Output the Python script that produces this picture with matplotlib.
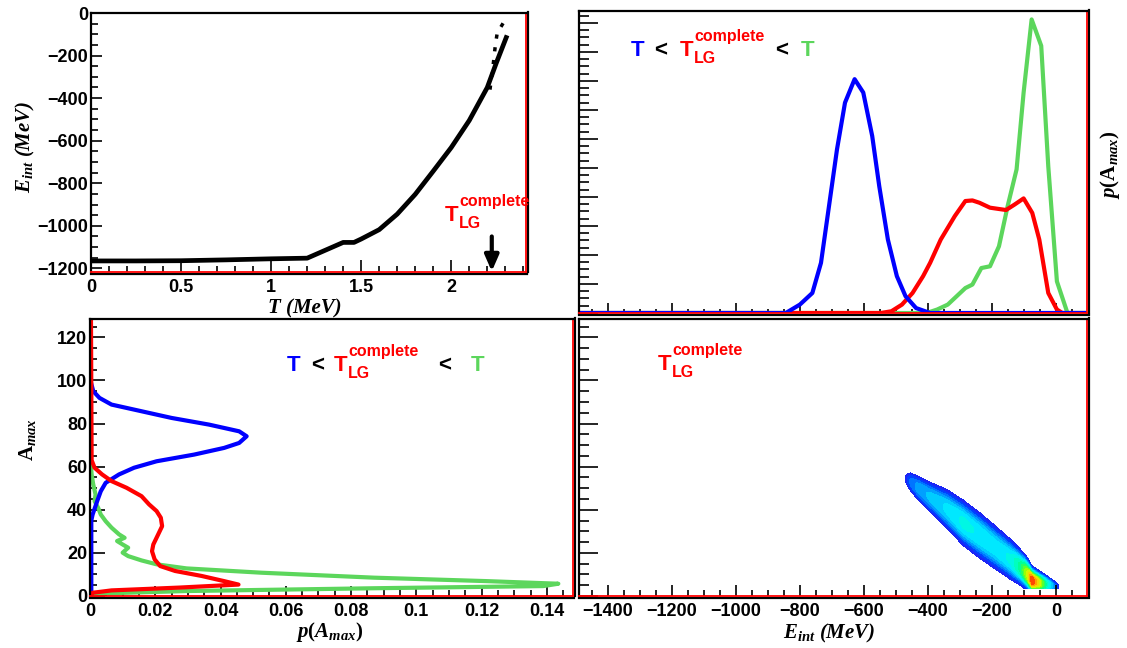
import numpy as np
import matplotlib
matplotlib.use("Agg")
import matplotlib.pyplot as plt
import matplotlib.transforms as mtransforms
from matplotlib.colors import LinearSegmentedColormap
from matplotlib.lines import Line2D
from matplotlib.ticker import MultipleLocator, FuncFormatter, NullFormatter

plt.rcParams['font.family'] = 'Liberation Sans'
plt.rcParams['font.weight'] = 'bold'
plt.rcParams['mathtext.fontset'] = 'custom'
plt.rcParams['mathtext.it'] = 'Liberation Serif:italic:bold'
plt.rcParams['mathtext.rm'] = 'Liberation Serif:bold'
plt.rcParams['mathtext.bf'] = 'Liberation Sans:bold'

# ---- data ----
# top left: E_int versus T
T_mev = [0, 0.25, 0.5, 0.75, 1.0, 1.2, 1.3, 1.4, 1.46, 1.5, 1.6, 1.7, 1.8, 1.9, 2.0, 2.1, 2.2, 2.25, 2.31]
E_of_T = [-1165, -1165, -1164, -1160, -1155, -1152, -1115, -1078, -1078, -1062, -1018, -945, -852, -743, -632, -505, -350, -235, -105]
T_dash = [2.215, 2.23, 2.245, 2.255, 2.29]
E_dash = [-360, -265, -150, -95, -45]
T_lg = 2.225

# top right: p(E_int) for the three temperature ranges
E_blue = [-1490, -844, -800, -761, -734, -712, -684, -659, -629, -602, -574, -552, -525, -497, -470, -437, -393, 97]
p_blue = [0, 0, 0.0029, 0.0069, 0.0173, 0.0345, 0.0564, 0.0725, 0.0806, 0.0760, 0.0610, 0.0437, 0.0253,
          0.0127, 0.0058, 0.0017, 0, 0]
E_red = [-1490, -547, -514, -481, -448, -415, -393, -360, -316, -283, -261, -239, -206, -156, -129, -101,
         -74, -52, -24, 3, 20, 97]
p_red = [0, 0, 0.0006, 0.0029, 0.0069, 0.0127, 0.0173, 0.0253, 0.0334, 0.0386, 0.0388, 0.0380, 0.0363,
         0.0355, 0.0374, 0.0395, 0.0345, 0.0253, 0.0069, 0.0012, 0, 0]
E_green = [-1490, -404, -371, -338, -310, -283, -261, -233, -206, -178, -151, -123, -101, -76, -46, -24, 3, 36, 97]
p_green = [0, 0, 0.0012, 0.0029, 0.0058, 0.0086, 0.0098, 0.0155, 0.0161, 0.0230, 0.0368, 0.0495, 0.0760,
           0.1012, 0.0921, 0.0506, 0.0109, 0, 0]

# bottom left: p(A_max)
A_blue = [1.5, 35, 37.8, 44, 48.6, 52.5, 56.4, 59.5, 62.5, 65.6, 68.7, 71, 74.1, 76.4, 79.5, 82.6, 85.7,
          88.8, 91.9, 95, 99.6]
pA_blue = [0.0004, 0.0004, 0.0008, 0.0022, 0.0033, 0.0048, 0.0089, 0.0135, 0.0204, 0.0319, 0.0411, 0.0457,
           0.0480, 0.0457, 0.0365, 0.0250, 0.0158, 0.0066, 0.0029, 0.0010, 0.0002]
A_red = [0, 1.5, 2.6, 3.9, 5.3, 6.9, 9.3, 11.6, 13.9, 17, 20.8, 23.9, 28.6, 32.4, 36.3, 39.4, 42.5, 46.3,
         50.2, 53.3, 56.4, 59.5, 63, 128]
pA_red = [0.0003, 0.0008, 0.0066, 0.0273, 0.0455, 0.0411, 0.0342, 0.0261, 0.0215, 0.0198, 0.0190, 0.0194,
          0.0209, 0.0221, 0.0217, 0.0204, 0.0181, 0.0158, 0.0112, 0.0066, 0.0037, 0.0014, 0.0005, 0.0003]
A_green = [0, 1.1, 2.3, 3.6, 4.6, 5.7, 6.9, 8.5, 10.8, 12.8, 14.7, 16.5, 18.5, 20.1, 22.4, 23.9, 25.5, 27,
           28.6, 31.7, 34.7, 37.8, 40.9, 44, 47.1, 51.7, 56.4, 62]
pA_green = [0.0003, 0.002, 0.0296, 0.0871, 0.1389, 0.1435, 0.1216, 0.0871, 0.0526, 0.0296, 0.0204, 0.0158,
            0.0117, 0.0100, 0.0117, 0.0100, 0.0083, 0.0106, 0.0089, 0.0066, 0.0048, 0.0033, 0.0025, 0.0014,
            0.0017, 0.0010, 0.0005, 0.0002]

# bottom right: ridge of the A_max vs E_int density at T_LG
ridge_E = [-470, -455, -430, -394, -340, -290, -240, -185, -140, -112, -90, -75, -55, -29, -5, 8]
ridge_A = [54.5, 53.0, 50.0, 46.0, 40.3, 34.0, 28.3, 22.0, 16.8, 13.4, 10.2, 7.2, 6.2, 5.3, 4.6, 4.2]
ridge_w = [1.9, 3.0, 3.75, 4.5, 5.75, 6.5, 6.6, 6.25, 5.75, 5.0, 4.4, 3.75, 3.25, 2.5, 1.6, 1.0]
ridge_p = [0.06, 0.18, 0.26, 0.30, 0.36, 0.42, 0.40, 0.38, 0.42, 0.55, 0.78, 1.0, 0.85, 0.5, 0.22, 0.06]
A_min = 3.6

BLUE, RED, GREEN = '#0000ff', '#ff0000', '#5cd65c'

W, H = 1127, 648
fig = plt.figure(figsize=(W / 100, H / 100), dpi=100)


def box(l, t, r, b):
    return [l / W, 1 - b / H, (r - l) / W, (b - t) / H]


fmt = FuncFormatter(lambda v, p: ('%g' % (0 if abs(v) < 1e-12 else v)).replace('-', '\u2212'))


def style(ax, xmaj, xmin, ymaj, ymin, ylen=(8, 4), xlen=(8, 4)):
    ax.xaxis.set_major_locator(MultipleLocator(xmaj))
    ax.xaxis.set_minor_locator(MultipleLocator(xmin))
    ax.yaxis.set_major_locator(MultipleLocator(ymaj))
    ax.yaxis.set_minor_locator(MultipleLocator(ymin))
    ax.xaxis.set_major_formatter(fmt)
    ax.yaxis.set_major_formatter(fmt)
    ax.tick_params(which='both', direction='in', top=False, right=False, labelsize=13, width=1.2)
    ax.tick_params(axis='x', which='major', length=xlen[0], pad=5)
    ax.tick_params(axis='x', which='minor', length=xlen[1])
    ax.tick_params(axis='y', which='major', length=ylen[0], pad=2)
    ax.tick_params(axis='y', which='minor', length=ylen[1])
    for s in ['top', 'left']:
        ax.spines[s].set_linewidth(1.6)
    for s in ['right', 'bottom']:
        ax.spines[s].set_color('red')
        ax.spines[s].set_linewidth(1.3)
    offx = mtransforms.ScaledTranslation(0.016, 0, fig.dpi_scale_trans)
    offy = mtransforms.ScaledTranslation(0, -0.016, fig.dpi_scale_trans)
    ax.add_artist(Line2D([1, 1], [0, 1.003], transform=ax.transAxes + offx, color='k', lw=1.6, clip_on=False))
    ax.add_artist(Line2D([0, 1.003], [0, 0], transform=ax.transAxes + offy, color='k', lw=1.6, clip_on=False))


def put(x, y, s, color, size=16, **kw):
    fig.text(x / W, 1 - y / H, s, color=color, fontsize=size, fontweight='bold',
             fontfamily='Liberation Sans', **kw)


def tlg(x, yb):
    put(x, yb, 'T', RED, 16, ha='left', va='baseline')
    put(x + 14, yb - 15, 'complete', RED, 11.5, ha='left', va='baseline')
    put(x + 14, yb + 7, 'LG', RED, 11.5, ha='left', va='baseline')


def title_line(xb, xl1, xr, xl2, xg, yb):
    put(xb, yb, 'T', BLUE, 16, ha='left', va='baseline')
    put(xl1, yb, '<', 'k', 16, ha='center', va='baseline')
    tlg(xr, yb)
    put(xl2, yb, '<', 'k', 16, ha='center', va='baseline')
    put(xg, yb, 'T', GREEN, 16, ha='left', va='baseline')


def label(x, y, s, rot=0):
    fig.text(x / W, 1 - y / H, s, fontsize=15, fontfamily='Liberation Serif', fontstyle='italic',
             fontweight='bold', rotation=rot, ha='center', va='center')


# ---- top left ----
ax1 = fig.add_axes(box(91, 13, 526, 272))
ax1.plot(T_mev, E_of_T, color='k', lw=3.4, solid_capstyle='butt')
ax1.plot(T_dash, E_dash, color='k', lw=2.5, ls=(0, (1.2, 2.5)))
ax1.annotate('', xy=(T_lg, -1214), xytext=(T_lg, -1050),
             arrowprops=dict(arrowstyle='-|>,head_width=0.35,head_length=0.8', lw=3, color='k',
                             mutation_scale=12, shrinkA=0, shrinkB=0))
ax1.set_xlim(0, 2.415)
ax1.set_ylim(-1217, 0)
style(ax1, 0.5, 0.1, 200, 50, ylen=(8, 5), xlen=(9, 4))
tlg(445, 221)
label(305, 308, 'T (MeV)')
label(25, 147, r'$E_{int}$ (MeV)', rot=90)

# ---- top right ----
ax2 = fig.add_axes(box(579, 11, 1087, 313))
ax2.plot(E_green, p_green, color=GREEN, lw=3)
ax2.plot(E_red, p_red, color=RED, lw=3)
ax2.plot(E_blue, p_blue, color=BLUE, lw=3)
ax2.set_xlim(-1490, 97)
ax2.set_ylim(0, 0.1041)
style(ax2, 200, 50, 0.01, 0.0025, ylen=(14, 7), xlen=(7, 3))
ax2.xaxis.set_major_formatter(NullFormatter())
ax2.yaxis.set_major_formatter(NullFormatter())
title_line(631, 661, 680, 782, 801, 56)
label(1110, 165, r'$p(\mathrm{A}_{max})$', rot=90)

# ---- bottom left ----
ax3 = fig.add_axes(box(90, 319, 573, 596))
ax3.plot(pA_green, A_green, color=GREEN, lw=3)
ax3.plot(pA_blue, A_blue, color=BLUE, lw=3)
ax3.plot(pA_red, A_red, color=RED, lw=3)
ax3.set_xlim(0, 0.148)
ax3.set_ylim(0, 128.5)
style(ax3, 0.02, 0.005, 20, 5, ylen=(11, 5), xlen=(7, 4))
title_line(287, 318, 334, 445, 471, 371)
label(330, 632, r'$p(A_{max})$')
label(27, 440, r'$\mathrm{A}_{max}$', rot=90)

# ---- bottom right ----
ax4 = fig.add_axes(box(579, 319, 1087, 596))
Eg = np.arange(-500, 30.5, 1.0)
Ag = np.arange(0, 62, 0.2)
EE, AA = np.meshgrid(Eg, Ag)
cen = np.interp(EE, ridge_E, ridge_A)
wid = np.interp(EE, ridge_E, ridge_w)
amp = np.interp(EE, ridge_E, ridge_p, left=0, right=0)
dens = amp * np.exp(-0.5 * np.abs((AA - cen) / wid) ** 3)
dens[AA < A_min] = 0
cmap = LinearSegmentedColormap.from_list('root', ['#2a18f0', '#0040ff', '#0088ff', '#00c8ff', '#00f0ff',
                                                  '#00ffc8', '#00ff90', '#40ff40', '#a0ff00', '#f0f000',
                                                  '#ffa000', '#ff2000'])
ax4.contourf(EE, AA, dens, levels=np.linspace(0.05, 1.001, 17), cmap=cmap)
ax4.set_xlim(-1490, 97)
ax4.set_ylim(0, 128.5)
style(ax4, 200, 50, 20, 5, ylen=(14, 7), xlen=(8, 4))
ax4.yaxis.set_major_formatter(NullFormatter())
tlg(658, 370)
label(829, 633, r'$E_{int}$ (MeV)')

fig.savefig('out.png', dpi=100)
